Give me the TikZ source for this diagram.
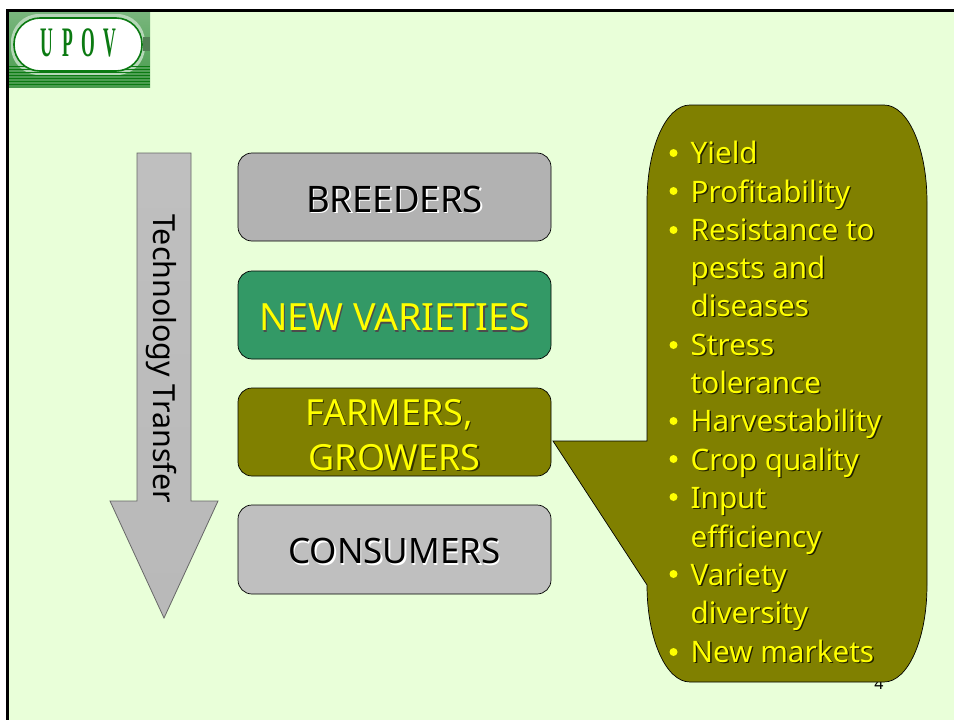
\documentclass[tikz,border=0pt]{standalone}
\usepackage{fontspec}
\setmainfont{Noto Sans}
\newfontfamily\logofont{Liberation Serif}
\usetikzlibrary{shadings}
\definecolor{bgc}{HTML}{E9FFD9}
\definecolor{olv}{HTML}{808000}
\definecolor{grn}{HTML}{339966}
\definecolor{ylw}{HTML}{FFFF00}
\definecolor{logod}{HTML}{0B7A12}
\newcommand{\shtext}[3]{\makebox[0pt][l]{\raisebox{-1.4pt}{\hspace{1.4pt}\textcolor{#1}{#3}}}\textcolor{#2}{#3}}
\newcommand{\boxfont}[1]{\fontsize{#1}{40}\selectfont}
\tikzset{
  x=1pt,y=-1pt,
  stagebox/.style={draw=black,line width=0.7pt,rounded corners=14pt},
  boxlabel/.style={inner sep=0pt,align=center},
  itemline/.style={anchor=base west,inner sep=0pt,font=\fontsize{29.6}{36}\selectfont},
  bulletdot/.style={circle,fill=ylw,inner sep=0pt,minimum size=8pt},
}
\newcommand{\itm}[3]{\node[itemline] (#1) at (690.5,#2) {\shtext{black!75!olv}{ylw}{#3}};}
\begin{document}
\begin{tikzpicture}
\useasboundingbox (0,0) rectangle (954,720);
\fill[white] (0,0) rectangle (954,720);
\fill[bgc] (7,10) rectangle (954,720);
\draw[black,line width=3pt] (7.5,720) -- (7.5,10.5) -- (954,10.5);
% logo
\shade[top color=logod!55!white,bottom color=logod!75!white] (9,12) rectangle (150,87);
\fill[logod!30!white,rounded corners=28pt] (11,14) rectangle (145,75);
\foreach \yy in {66,69,72,75,78,81,84}{\fill[logod] (9,\yy) rectangle (150,\yy+1.2);}
\fill[logod!60!black!70] (143,37) rectangle (150,51);
\node[draw=logod,fill=white,line width=1.6pt,rounded corners=26pt,minimum width=128pt,minimum height=53pt,inner sep=0pt] (pill) at (78,44.5) {};
\node[inner sep=0pt,text=logod,font=\fontsize{42}{42}\selectfont\logofont\bfseries] (upov) at (78.5,43) {\scalebox{0.42}[1]{U\hspace{20pt}P\hspace{20pt}O\hspace{20pt}V}};
% page number
\node[inner sep=0pt,font=\fontsize{16}{16}\selectfont] (pg) at (879,684) {4};
% arrow
\shade[draw=black!60,line width=0.8pt,top color=gray!50,bottom color=gray!55!white]
  (137,153) -- (191,153) -- (191,501) -- (218,501) -- (164,618) -- (110,501) -- (137,501) -- cycle;
\node[rotate=-90,inner sep=0pt,font=\fontsize{30.4}{30}\selectfont] (tt) at (161,358.5) {Technology Transfer};
% boxes
\draw[stagebox,fill=black!30] (238,153) rectangle (551,241);
\coordinate (c1) at (394.5,200);
\node[boxlabel,font=\boxfont{36.5}] (breeders) at (c1) {\shtext{white}{black}{BREEDERS}};
\draw[stagebox,fill=grn] (238,271) rectangle (551,359);
\coordinate (c2) at (394.5,318);
\node[boxlabel,font=\boxfont{37.5}] (newvar) at (c2) {\shtext{black!70}{ylw}{NEW VARIETIES}};
\draw[stagebox,fill=olv] (238,388) rectangle (551,476);
\node[boxlabel,font=\boxfont{36},anchor=base] (farm1) at (389,425) {\shtext{black!60!olv}{ylw}{FARMERS,}};
\node[boxlabel,font=\boxfont{36},anchor=base] (farm2) at (394.5,470) {\shtext{black!60!olv}{ylw}{GROWERS}};
\draw[stagebox,fill=black!25] (238,505) rectangle (551,594);
\coordinate (c4) at (394.5,552);
\node[boxlabel,font=\boxfont{35}] (cons) at (c4) {\shtext{white}{black}{CONSUMERS}};
% callout
\draw[black,line width=0.7pt,fill=olv] (690,105) -- (884,105)
  .. controls (908,105) and (927,148) .. (927,202)
  -- (927,585)
  .. controls (927,639) and (908,682) .. (884,682)
  -- (690,682)
  .. controls (666,682) and (647,639) .. (647,585)
  -- (553,441) -- (647,441) -- (647,202)
  .. controls (647,148) and (666,105) .. (690,105) -- cycle;
% items
\itm{i1}{163}{Yield}
\itm{i2}{202}{Profitability}
\itm{i3}{240}{Resistance to}
\itm{i3b}{278}{pests and}
\itm{i3c}{316}{diseases}
\itm{i4}{355}{Stress}
\itm{i4b}{393}{tolerance}
\itm{i5}{431}{Harvestability}
\itm{i6}{470}{Crop quality}
\itm{i7}{508}{Input}
\itm{i7b}{547}{efficiency}
\itm{i8}{585}{Variety}
\itm{i8b}{623}{diversity}
\itm{i9}{662}{New markets}
\foreach \yy in {153,191,230,345,421,459,497,574,652}{\node[bulletdot] at (673.5,\yy) {};}
\end{tikzpicture}
\end{document}
